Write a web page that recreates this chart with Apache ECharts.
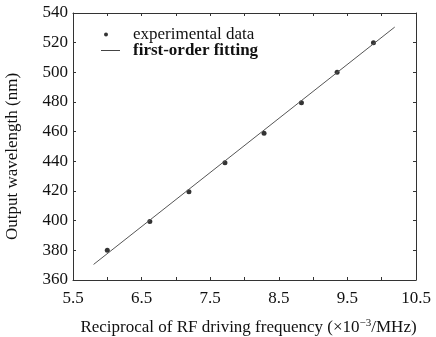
<!DOCTYPE html>
<html>
<head>
<meta charset="utf-8">
<script src="https://cdn.jsdelivr.net/npm/echarts@6/dist/echarts.min.js"></script>
<style>
  html, body { margin: 0; padding: 0; background: #fff; }
  #chart { width: 436px; height: 337px; }
</style>
</head>
<body>
<div id="chart"></div>
<script>
// values
const freqInv = [6.00, 6.62, 7.19, 7.715, 8.285, 8.83, 9.35, 9.88]
const wavelength = [380, 399.5, 419.5, 439, 459, 479.5, 500, 520]
const fitX = [5.80, 10.19]
const fitY = [370.5, 530.5]
const xTicks = [5.5, 10.5]
const yTicks = [360, 540]

const font = "Liberation Serif"
const chart = echarts.init(document.getElementById("chart"))

const tickStyle = { lineStyle: { color: "#333", width: 1 } }

chart.setOption({
  animation: false,
  grid: { left: 73, right: 20, top: 13, bottom: 57, outerBoundsMode: "none", containLabel: false },
  legend: [
    {
      data: [{ name: "experimental data", icon: "circle" }],
      left: 99, top: 21,
      itemWidth: 20, itemHeight: 4,
      textStyle: { fontFamily: font, fontSize: 17, color: "#111", padding: [0, 0, 0, 12], letterSpacing: 1.5 }
    },
    {
      data: [{ name: "first-order fitting", icon: "rect" }],
      left: 96, top: 37,
      itemWidth: 19, itemHeight: 1,
      itemStyle: { color: "#444" },
      textStyle: { fontFamily: font, fontSize: 17, color: "#111", fontWeight: "bold", padding: [0, 0, 0, 8], letterSpacing: 0.4 }
    }
  ],
  xAxis: [
    {
      type: "value", min: xTicks[0], max: xTicks[1], interval: 1,
      name: "Reciprocal of RF driving frequency (×10{sup|−3}/MHz)",
      nameLocation: "middle", nameGap: 38,
      nameTextStyle: {
        fontFamily: font, fontSize: 17, color: "#111", letterSpacing: 1.2, padding: [0, 0, 0, 8],
        rich: { sup: { fontFamily: font, fontSize: 11, verticalAlign: "top", padding: [0, 0, 8, 0] } }
      },
      axisLine: { lineStyle: { color: "#333" } },
      axisTick: { inside: true, length: 3, ...tickStyle },
      minorTick: { show: true, splitNumber: 2, length: 3, lineStyle: { color: "#333" } },
      splitLine: { show: false },
      axisLabel: { fontFamily: font, fontSize: 17, color: "#111", margin: 10, letterSpacing: 0.5 }
    },
    {
      type: "value", position: "top", min: xTicks[0], max: xTicks[1], interval: 1,
      axisLine: { lineStyle: { color: "#333" } },
      axisTick: { inside: true, length: 3, ...tickStyle },
      minorTick: { show: true, splitNumber: 2, length: 3, lineStyle: { color: "#333" } },
      splitLine: { show: false },
      axisLabel: { show: false }
    }
  ],
  yAxis: [
    {
      type: "value", min: yTicks[0], max: yTicks[1], interval: 20,
      name: "Output wavelength (nm)",
      nameLocation: "middle", nameGap: 52,
      nameTextStyle: { fontFamily: font, fontSize: 17, color: "#111", letterSpacing: 0.8, padding: [0, 20, 0, 0] },
      axisLine: { show: true, lineStyle: { color: "#333" } },
      axisTick: { show: true, inside: true, length: 3, ...tickStyle },
      splitLine: { show: false },
      axisLabel: { fontFamily: font, fontSize: 17, color: "#111", margin: 5 }
    },
    {
      type: "value", position: "right", min: yTicks[0], max: yTicks[1], interval: 20,
      axisLine: { show: true, lineStyle: { color: "#333" } },
      axisTick: { show: true, inside: true, length: 3, ...tickStyle },
      splitLine: { show: false },
      axisLabel: { show: false }
    }
  ],
  series: [
    {
      name: "experimental data",
      type: "scatter",
      symbolSize: 5,
      itemStyle: { color: "#000" },
      data: freqInv.map((x, i) => [x, wavelength[i]])
    },
    {
      name: "first-order fitting",
      type: "line",
      symbol: "none",
      lineStyle: { color: "#555", width: 1 },
      itemStyle: { color: "#555" },
      data: fitX.map((x, i) => [x, fitY[i]])
    }
  ]
})
</script>
</body>
</html>
